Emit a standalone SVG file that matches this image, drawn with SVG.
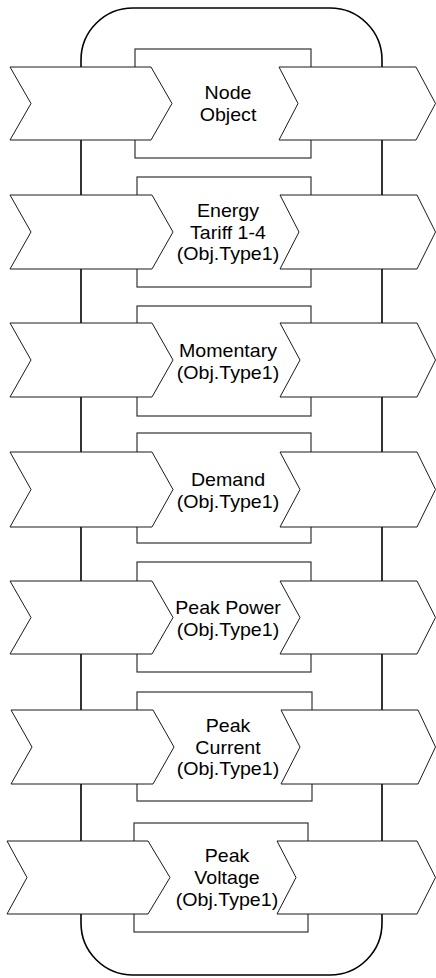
<svg xmlns="http://www.w3.org/2000/svg" width="436" height="978" viewBox="0 0 436 978">
<style>
.outer{fill:#fff;stroke:#000;stroke-width:1.6}
.box{fill:#fff;stroke:#333;stroke-width:1.2}
.chev{fill:#fff;stroke:#1a1a1a;stroke-width:1}
.lbl{font-family:"Liberation Sans",Arial,sans-serif;font-size:18px;fill:#000;text-anchor:middle}
</style>
<g id="container">
<rect class="outer" x="81" y="8" width="301" height="967" rx="52" ry="52"/>
</g>
<g id="connectors"></g>
<g id="node-object">
<rect class="box" x="135" y="49" width="176" height="109"/>
<polygon class="chev" points="10,67 151,67 172,103.5 151,140 10,140 31,103.5"/>
<polygon class="chev" points="279,67 416,67 435.5,103.5 416,140 279,140 298,103.5"/>
<text class="lbl" transform="translate(228 0) scale(1.09 1)"><tspan x="0" y="99.5">Node</tspan><tspan x="0" y="121.3">Object</tspan></text>
</g>
<g id="energy-tariff">
<rect class="box" x="137" y="177" width="174" height="110"/>
<polygon class="chev" points="10,195 152,195 173,232 152,269 10,269 31,232"/>
<polygon class="chev" points="280,195 417,195 435.5,232 417,269 280,269 299,232"/>
<text class="lbl" transform="translate(228 0) scale(1.09 1)"><tspan x="0" y="217">Energy</tspan><tspan x="0" y="238.6">Tariff 1-4</tspan><tspan x="0" y="260.2">(Obj.Type1)</tspan></text>
</g>
<g id="momentary">
<rect class="box" x="137" y="306" width="174" height="110"/>
<polygon class="chev" points="10,323 152,323 173,360 152,397 10,397 31,360"/>
<polygon class="chev" points="280,323 417,323 435.5,360 417,397 280,397 300,360"/>
<text class="lbl" transform="translate(228 0) scale(1.09 1)"><tspan x="0" y="357">Momentary</tspan><tspan x="0" y="378.6">(Obj.Type1)</tspan></text>
</g>
<g id="demand">
<rect class="box" x="137" y="433" width="174" height="110"/>
<polygon class="chev" points="10,452 152,452 173,489.5 152,527 10,527 31,489.5"/>
<polygon class="chev" points="280,452 417,452 435.5,489.5 417,527 280,527 300,489.5"/>
<text class="lbl" transform="translate(228 0) scale(1.09 1)"><tspan x="0" y="486">Demand</tspan><tspan x="0" y="507.6">(Obj.Type1)</tspan></text>
</g>
<g id="peak-power">
<rect class="box" x="137" y="562" width="174" height="110"/>
<polygon class="chev" points="10,581 152,581 173,617.5 152,654 10,654 31,617.5"/>
<polygon class="chev" points="280,581 417,581 435.5,617.5 417,654 280,654 300,617.5"/>
<text class="lbl" transform="translate(228 0) scale(1.09 1)"><tspan x="0" y="614">Peak Power</tspan><tspan x="0" y="635.6">(Obj.Type1)</tspan></text>
</g>
<g id="peak-current">
<rect class="box" x="137" y="692" width="175" height="109"/>
<polygon class="chev" points="11,710 153,710 174,747 153,784 11,784 32,747"/>
<polygon class="chev" points="281,710 418,710 435.5,747 418,784 281,784 300,747"/>
<text class="lbl" transform="translate(228 0) scale(1.09 1)"><tspan x="0" y="732">Peak</tspan><tspan x="0" y="753.6">Current</tspan><tspan x="0" y="775.2">(Obj.Type1)</tspan></text>
</g>
<g id="peak-voltage">
<rect class="box" x="134" y="823" width="174" height="109"/>
<polygon class="chev" points="7,841 148,841 170,877.5 148,914 7,914 27,877.5"/>
<polygon class="chev" points="277,841 417,841 435.5,877.5 417,914 277,914 296,877.5"/>
<text class="lbl" transform="translate(227 0) scale(1.09 1)"><tspan x="0" y="862.5">Peak</tspan><tspan x="0" y="884.1">Voltage</tspan><tspan x="0" y="905.7">(Obj.Type1)</tspan></text>
</g>
</svg>
